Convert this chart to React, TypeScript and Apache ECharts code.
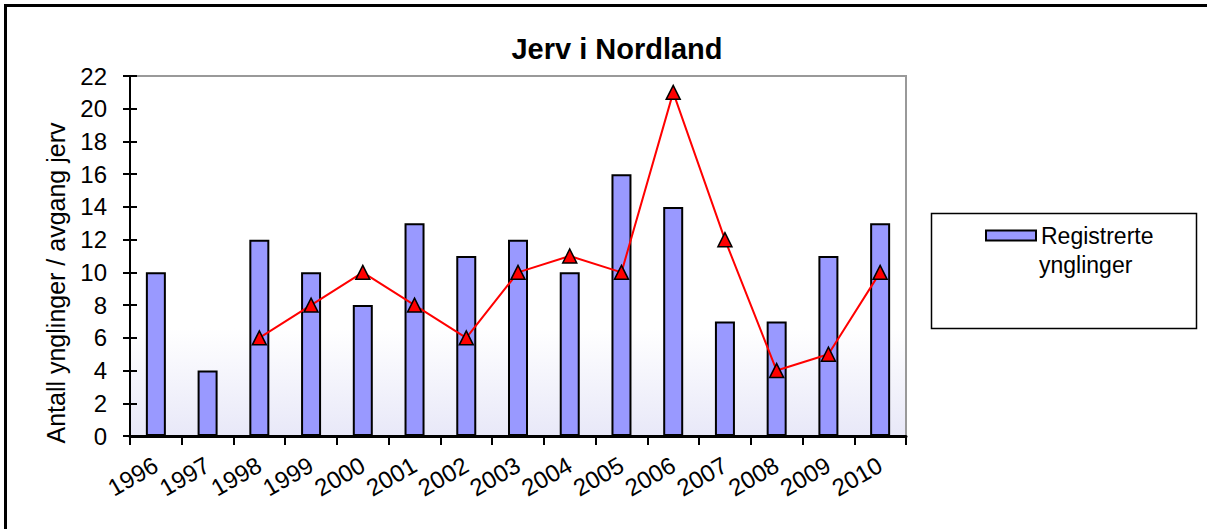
import React, { useEffect, useRef } from "react";
import * as echarts from "echarts";

const years = ["1996", "1997", "1998", "1999", "2000", "2001", "2002", "2003", "2004", "2005", "2006", "2007", "2008", "2009", "2010"];
const ynglinger = [10, 4, 12, 10, 8, 13, 11, 12, 10, 16, 14, 7, 7, 11, 13];
const avgang: (number | string)[] = ["-", "-", 6, 8, 10, 8, 6, 10, 11, 10, 21, 12, 4, 5, 10];
const yTicks = { min: 0, max: 22, interval: 2 };

export default function App() {
  const ref = useRef<HTMLDivElement>(null);
  useEffect(() => {
    document.body.style.margin = "0";
    if (!ref.current) return;
    const chart = echarts.init(ref.current, null, { renderer: "svg" });
    const font = "Arial, 'Liberation Sans', sans-serif";
    chart.setOption({
      animation: false,
      backgroundColor: "#ffffff",
      textStyle: { fontFamily: font },
      title: {
        text: "Jerv i Nordland",
        left: 612,
        textAlign: "center",
        top: 29,
        textStyle: { fontFamily: font, fontSize: 29, fontWeight: "bold", color: "#000" },
      },
      legend: {
        data: ["Registrerte ynglinger"],
        left: 980,
        top: 219,
        itemWidth: 50,
        itemHeight: 10,
        itemGap: 9,
        icon: "rect",
        formatter: () => "Registrerte",
        textStyle: { fontFamily: font, fontSize: 23, color: "#000" },
      },
      grid: {
        left: 130,
        top: 76,
        right: 301,
        bottom: 93,
        show: true,
        borderColor: "#999999",
        borderWidth: 2,
        backgroundColor: {
          type: "linear",
          x: 0, y: 0, x2: 0, y2: 1,
          colorStops: [
            { offset: 0, color: "#ffffff" },
            { offset: 0.7, color: "#ffffff" },
            { offset: 1, color: "#e8e8f8" },
          ],
        },
      },
      xAxis: {
        type: "category",
        data: years,
        boundaryGap: true,
        axisLine: { lineStyle: { color: "#000", width: 3 } },
        axisTick: { show: true, length: 9, lineStyle: { color: "#000", width: 2 } },
        axisLabel: { interval: 0, rotate: 30, fontSize: 24, color: "#000", fontFamily: font, margin: 27 },
      },
      yAxis: [
        {
          type: "value",
          min: yTicks.min,
          max: yTicks.max,
          interval: yTicks.interval,
          name: "Antall ynglinger / avgang jerv",
          nameLocation: "middle",
          nameGap: 62,
          nameTextStyle: { fontSize: 25, color: "#000", fontFamily: font, padding: [0, 54, 0, 0] },
          splitLine: { show: false },
          axisLine: { show: true, lineStyle: { color: "#000", width: 2 } },
          axisTick: { show: true, length: 7, lineStyle: { color: "#000", width: 2 } },
          axisLabel: { fontSize: 24, color: "#000", fontFamily: font, margin: 23 },
        },
        {
          type: "value",
          position: "left",
          min: yTicks.min,
          max: yTicks.max,
          interval: yTicks.interval,
          splitLine: { show: false },
          axisLine: { show: false },
          axisTick: { show: true, inside: true, length: 7, lineStyle: { color: "#000", width: 2 } },
          axisLabel: { show: false },
        },
      ],
      series: [
        {
          name: "Registrerte ynglinger",
          type: "bar",
          data: ynglinger,
          barWidth: 20,
          itemStyle: { color: "#9999ff", borderColor: "#000", borderWidth: 2 },
        },
        {
          name: "Avgang jerv",
          type: "line",
          data: avgang,
          symbol: "triangle",
          symbolSize: 14,
          lineStyle: { color: "#ff0000", width: 2 },
          itemStyle: { color: "#ff0000", borderColor: "#000", borderWidth: 1.5 },
          z: 5,
        },
      ],
      graphic: [
        {
          type: "rect",
          shape: { x: 5.5, y: 5.5, width: 1220, height: 540 },
          style: { fill: "none", stroke: "#000", lineWidth: 3 },
          silent: true,
        },
        {
          type: "rect",
          shape: { x: 931.5, y: 213.5, width: 265, height: 115 },
          style: { fill: "none", stroke: "#000", lineWidth: 1.5 },
          silent: true,
        },
        {
          type: "text",
          x: 1039,
          y: 265,
          style: { text: "ynglinger", font: "23px Arial, 'Liberation Sans', sans-serif", fill: "#000", verticalAlign: "middle" },
          silent: true,
        },
      ],
    });
    return () => chart.dispose();
  }, []);
  return <div ref={ref} style={{ width: 1207, height: 529 }} />;
}
